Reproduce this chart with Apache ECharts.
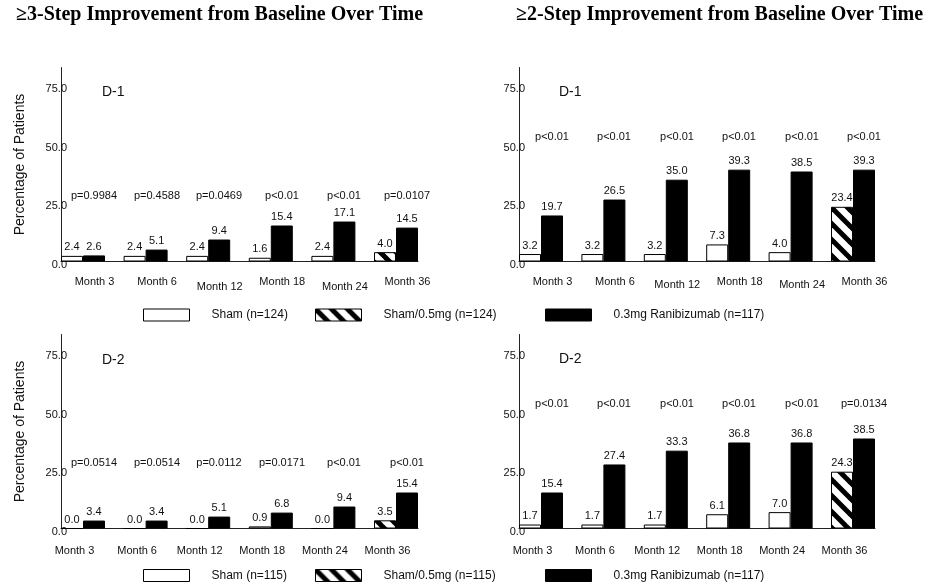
<!DOCTYPE html>
<html><head><meta charset="utf-8">
<script src="https://cdn.jsdelivr.net/npm/echarts@6/dist/echarts.min.js"></script>
<style>html,body{margin:0;padding:0;background:#fff}#c{width:929px;height:588px}</style>
</head><body><div id="c"></div>
<script>
// ---------- data ----------
const categories = ['Month 3', 'Month 6', 'Month 12', 'Month 18', 'Month 24', 'Month 36'];
const yTicks = [0, 25, 50, 75];

// >=3-step, D-1 (Sham n=124)
const sham3D1 = [2.4, 2.4, 2.4, 1.6, 2.4, null];
const hatch3D1 = [null, null, null, null, null, 4.0];
const rani3D1 = [2.6, 5.1, 9.4, 15.4, 17.1, 14.5];
const p3D1 = ['p=0.9984', 'p=0.4588', 'p=0.0469', 'p<0.01', 'p<0.01', 'p=0.0107'];

// >=2-step, D-1 (Sham n=124)
const sham2D1 = [3.2, 3.2, 3.2, 7.3, 4.0, null];
const hatch2D1 = [null, null, null, null, null, 23.4];
const rani2D1 = [19.7, 26.5, 35.0, 39.3, 38.5, 39.3];
const p2D1 = ['p<0.01', 'p<0.01', 'p<0.01', 'p<0.01', 'p<0.01', 'p<0.01'];

// >=3-step, D-2 (Sham n=115)
const sham3D2 = [0.0, 0.0, 0.0, 0.9, 0.0, null];
const hatch3D2 = [null, null, null, null, null, 3.5];
const rani3D2 = [3.4, 3.4, 5.1, 6.8, 9.4, 15.4];
const p3D2 = ['p=0.0514', 'p=0.0514', 'p=0.0112', 'p=0.0171', 'p<0.01', 'p<0.01'];

// >=2-step, D-2 (Sham n=115)
const sham2D2 = [1.7, 1.7, 1.7, 6.1, 7.0, null];
const hatch2D2 = [null, null, null, null, null, 24.3];
const rani2D2 = [15.4, 27.4, 33.3, 36.8, 36.8, 38.5];
const p2D2 = ['p<0.01', 'p<0.01', 'p<0.01', 'p<0.01', 'p<0.01', 'p=0.0134'];

const namesD1 = ['Sham (n=124)', 'Sham/0.5mg (n=124)', '0.3mg Ranibizumab (n=117)'];
const namesD2 = ['Sham (n=115)', 'Sham/0.5mg (n=115)', '0.3mg Ranibizumab (n=117)'];
const mainTitles = ['\u22653-Step Improvement from Baseline Over Time', '\u22652-Step Improvement from Baseline Over Time'];
const yName = 'Percentage of Patients';

// ---------- style / layout ----------
const FONT = 'Liberation Sans';
const TXT = '#111';
const LINE = '#222';

function hatchPattern() {
  const s = 16;
  const cv = document.createElement('canvas');
  cv.width = s; cv.height = s;
  const ctx = cv.getContext('2d');
  ctx.fillStyle = '#fff'; ctx.fillRect(0, 0, s, s);
  ctx.strokeStyle = '#000'; ctx.lineWidth = 5;
  ctx.lineCap = 'square';
  for (const k of [-s, 0, s]) {
    ctx.beginPath(); ctx.moveTo(k - 2, -2); ctx.lineTo(k + s + 2, s + 2); ctx.stroke();
  }
  return { image: cv, repeat: 'repeat' };
}
const HATCH = hatchPattern();

const panels = [
  { sham: sham3D1, hatch: hatch3D1, rani: rani3D1, p: p3D1, names: namesD1, label: 'D-1',
    axL: 61, axR: 418, top: 67.5, h: 194, yname: true, tx: 102, ty: 85, pY: 28.2,
    shift: 11.5, low: [2, 4], lowBy: 5, margin: 15 },
  { sham: sham2D1, hatch: hatch2D1, rani: rani2D1, p: p2D1, names: namesD1, label: 'D-1',
    axL: 519, axR: 875, top: 67.5, h: 194, yname: false, tx: 559, ty: 85, pY: 53.4,
    shift: 11.5, low: [2, 4], lowBy: 3, margin: 15 },
  { sham: sham3D2, hatch: hatch3D2, rani: rani3D2, p: p3D2, names: namesD2, label: 'D-2',
    axL: 61, axR: 418, top: 334.5, h: 194, yname: true, tx: 102, ty: 353, pY: 27.9,
    shift: -8.5, low: [], lowBy: 0, margin: 17 },
  { sham: sham2D2, hatch: hatch2D2, rani: rani2D2, p: p2D2, names: namesD2, label: 'D-2',
    axL: 519, axR: 875, top: 334.5, h: 194, yname: false, tx: 559, ty: 352, pY: 53.1,
    shift: -8.5, low: [], lowBy: 0, margin: 17 }
];
const BAR_W = 22;
const YMAX = 83;

const grid = [], xAxis = [], yAxis = [], series = [], title = [], legend = [];

mainTitles.forEach((t, i) => {
  title.push({ text: t, left: i === 0 ? 16 : 516, top: 5, padding: 0,
    textStyle: { fontFamily: 'Liberation Serif', fontWeight: 'bold', fontSize: 20, color: '#000' } });
});

function pad(shift, down) {
  return [down, shift < 0 ? -2 * shift : 0, 0, shift > 0 ? 2 * shift : 0];
}
const lblBase = { fontFamily: FONT, fontSize: 11, color: TXT };

panels.forEach((P, k) => {
  const pitch = (P.axR - P.axL - 2 * BAR_W) / 5;
  const gA = 2 * k, gB = 2 * k + 1;
  // bar grid (category bands centred on groups)
  grid.push({ left: P.axL + BAR_W - pitch / 2, width: pitch * 6, top: P.top, height: P.h });
  // axis grid (axis lines span from first bar to last bar)
  grid.push({ left: P.axL, width: P.axR - P.axL, top: P.top, height: P.h });

  xAxis.push({
    type: 'category', gridIndex: gA, data: categories,
    axisLine: { show: false }, axisTick: { show: false },
    axisLabel: {
      interval: 0, margin: P.margin, ...lblBase,
      formatter: (v, i) => (P.low.includes(i) ? '{b|' + v + '}' : '{a|' + v + '}'),
      rich: {
        a: { ...lblBase, padding: pad(P.shift, 0) },
        b: { ...lblBase, padding: pad(P.shift, P.lowBy) }
      }
    }
  });
  xAxis.push({
    type: 'value', gridIndex: gB, min: 0, max: 1,
    axisLine: { show: true, lineStyle: { color: LINE, width: 1 } },
    axisTick: { show: false }, axisLabel: { show: false }, splitLine: { show: false }
  });
  yAxis.push({ type: 'value', gridIndex: gA, min: 0, max: YMAX, show: false, splitLine: { show: false } });
  yAxis.push({
    type: 'value', gridIndex: gB, min: 0, max: YMAX, interval: 25,
    axisLine: { show: true, lineStyle: { color: LINE, width: 1 } },
    axisTick: { show: false }, splitLine: { show: false },
    axisLabel: { margin: -6, showMaxLabel: false, ...lblBase,
      formatter: v => (yTicks.includes(v) ? '{v|' + v.toFixed(1) + '}' : ''),
      rich: { v: { ...lblBase, padding: [6, 0, 0, 0] } } },
    name: P.yname ? yName : '', nameLocation: 'middle', nameGap: 34,
    nameTextStyle: { fontFamily: FONT, fontSize: 14, color: TXT }
  });

  const valLabel = { show: true, position: 'top', distance: 3, ...lblBase,
    formatter: prm => (prm.value == null ? '' : Number(prm.value).toFixed(1)) };

  series.push({
    type: 'bar', name: P.names[0], xAxisIndex: gA, yAxisIndex: gA, stack: 'sham' + k,
    data: P.sham, barWidth: BAR_W, barGap: 0,
    itemStyle: { color: '#fff', borderColor: '#000', borderWidth: 1 },
    label: valLabel
  });
  series.push({
    type: 'bar', name: P.names[1], xAxisIndex: gA, yAxisIndex: gA, stack: 'sham' + k,
    data: P.hatch, barWidth: BAR_W, barGap: 0,
    itemStyle: { color: HATCH, borderColor: '#000', borderWidth: 1 },
    label: valLabel
  });
  series.push({
    type: 'bar', name: P.names[2], xAxisIndex: gA, yAxisIndex: gA,
    data: P.rani, barWidth: BAR_W, barGap: 0,
    itemStyle: { color: '#000', borderColor: '#000', borderWidth: 1 },
    label: valLabel
  });
  // p-value annotations, placed through the axis scales above each treated bar
  series.push({
    type: 'custom', name: 'p' + k, xAxisIndex: gA, yAxisIndex: gA, silent: true,
    data: categories.map((c, i) => [i, P.pY]),
    renderItem: (params, api) => {
      const pt = api.coord([api.value(0), api.value(1)]);
      return {
        type: 'text', x: Math.round(pt[0] + BAR_W / 2), y: Math.round(pt[1]),
        style: { text: P.p[params.dataIndex], fill: TXT, font: '11px "Liberation Sans"',
          align: 'center', verticalAlign: 'middle' }
      };
    }
  });

  title.push({ text: P.label, left: P.tx, top: P.ty, padding: 0,
    textStyle: { fontFamily: FONT, fontWeight: 'normal', fontSize: 14, color: TXT } });
});

// legends: one item each, top (n=124) and bottom (n=115)
const legendLefts = [143, 315, 545];
[[namesD1, 308.5], [namesD2, 569]].forEach(([names, top]) => {
  names.forEach((n, i) => {
    legend.push({
      data: [n], left: legendLefts[i], top: top, padding: 0, itemGap: 0,
      itemWidth: 46, itemHeight: 12, selectedMode: false, icon: 'rect',
      itemStyle: { borderWidth: 1 },
      textStyle: { fontFamily: FONT, fontSize: 12, color: TXT, padding: [0, 0, 0, 17] }
    });
  });
});

const chart = echarts.init(document.getElementById('c'), null, { renderer: 'canvas' });
chart.setOption({
  animation: false, backgroundColor: '#fff',
  title, legend, grid, xAxis, yAxis, series
});
</script></body></html>
